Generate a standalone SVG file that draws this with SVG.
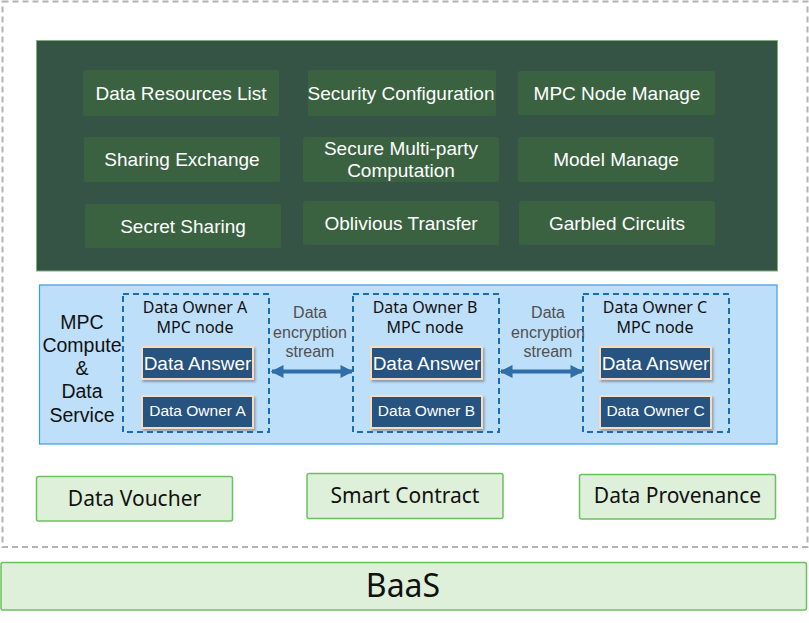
<svg xmlns="http://www.w3.org/2000/svg" width="809" height="623" viewBox="0 0 809 623">
<style>
.mod{fill:#3a6240;}
.mt{fill:#ffffff;font-family:"Liberation Sans",Arial,sans-serif;font-size:19px;text-anchor:middle;}
.dash{fill:none;stroke:#1b6cb6;stroke-width:2;stroke-dasharray:6 4;}
.btn{fill:#27537f;stroke:#f9dcc0;stroke-width:2;}
.bt1{fill:#ffffff;font-family:"Liberation Sans",Arial,sans-serif;font-size:19px;text-anchor:middle;}
.bt2{fill:#ffffff;font-family:"Liberation Sans",Arial,sans-serif;font-size:15.5px;text-anchor:middle;}
.ttl{fill:#111111;font-family:"Noto Sans",sans-serif;font-size:16px;text-anchor:middle;}
.side{fill:#111111;font-family:"Liberation Sans",Arial,sans-serif;font-size:19.5px;text-anchor:middle;}
.enc{fill:#505050;font-family:"Liberation Sans",Arial,sans-serif;font-size:16px;text-anchor:middle;}
.gbox{fill:#dff0da;stroke:#6cc060;stroke-width:1.5;}
.gt{fill:#111111;font-family:"Noto Sans",sans-serif;font-size:21px;text-anchor:middle;}
.baas{fill:#111111;font-family:"Noto Sans",sans-serif;font-size:32px;text-anchor:middle;}
.arr{stroke:#2f6ea8;stroke-width:4;fill:none;}
</style>
<defs>
<filter id="sh" x="-10%" y="-20%" width="130%" height="160%">
<feDropShadow dx="1.5" dy="2" stdDeviation="1" flood-color="#555" flood-opacity="0.5"/>
</filter>
<marker id="ah" viewBox="0 0 10 10" refX="9" refY="5" markerWidth="4.4" markerHeight="3.2" orient="auto-start-reverse" markerUnits="strokeWidth">
<path d="M0,0 L10,5 L0,10 z" fill="#2f6ea8"/>
</marker>
</defs>
<rect width="809" height="623" fill="#ffffff"/>
<rect id="outer" x="2.5" y="1.5" width="805" height="545.5" fill="none" stroke="#b3b3b3" stroke-width="2" stroke-dasharray="6 4"/>

<g id="mgmt-panel">
<rect x="36.5" y="40.5" width="741" height="230.5" fill="#365446" stroke="#7fb07a" stroke-width="1"/>
</g>
<g id="n-drl"><rect class="mod" x="83" y="70" width="196" height="46" rx="2"/><text class="mt" x="181" y="100">Data Resources List</text></g>
<g id="n-sc"><rect class="mod" x="308" y="70" width="188" height="46" rx="2"/><text class="mt" x="401" y="100">Security Configuration</text></g>
<g id="n-mnm"><rect class="mod" x="518" y="71" width="197" height="44" rx="2"/><text class="mt" x="617" y="100">MPC Node Manage</text></g>
<g id="n-se"><rect class="mod" x="84" y="137" width="196" height="45" rx="2"/><text class="mt" x="182" y="166">Sharing Exchange</text></g>
<g id="n-smc"><rect class="mod" x="303" y="137" width="196" height="45" rx="2"/><text class="mt" x="401" y="155">Secure Multi-party</text><text class="mt" x="401" y="177">Computation</text></g>
<g id="n-mm"><rect class="mod" x="518" y="137" width="196" height="45" rx="2"/><text class="mt" x="616" y="166">Model Manage</text></g>
<g id="n-ss"><rect class="mod" x="85" y="204" width="196" height="44" rx="2"/><text class="mt" x="183" y="233">Secret Sharing</text></g>
<g id="n-ot"><rect class="mod" x="303" y="201" width="196" height="44" rx="2"/><text class="mt" x="401" y="230">Oblivious Transfer</text></g>
<g id="n-gc"><rect class="mod" x="519" y="201" width="196" height="44" rx="2"/><text class="mt" x="617" y="230">Garbled Circuits</text></g>

<g id="compute-panel">
<rect x="39.5" y="285" width="737.5" height="159" fill="#bedff9" stroke="#3c9be8" stroke-width="1.2"/>
<text class="side" x="82" y="329">MPC</text>
<text class="side" x="82" y="352">Compute</text>
<text class="side" x="82" y="375">&amp;</text>
<text class="side" x="82" y="398">Data</text>
<text class="side" x="82" y="422">Service</text>
</g>

<g id="node-a">
<rect class="dash" x="123" y="294" width="146" height="138"/>
<text class="ttl" x="195" y="313">Data Owner A</text>
<text class="ttl" x="195" y="333">MPC node</text>
<rect class="btn" x="142" y="347" width="111" height="32" filter="url(#sh)"/>
<text class="bt1" x="197.5" y="369.5">Data Answer</text>
<rect class="btn" x="142" y="396" width="111" height="32" filter="url(#sh)"/>
<text class="bt2" x="197.5" y="416">Data Owner A</text>
</g>
<g id="node-b">
<rect class="dash" x="353" y="294" width="146" height="138"/>
<text class="ttl" x="425" y="313">Data Owner B</text>
<text class="ttl" x="425" y="333">MPC node</text>
<rect class="btn" x="371" y="347" width="111" height="32" filter="url(#sh)"/>
<text class="bt1" x="426.5" y="369.5">Data Answer</text>
<rect class="btn" x="371" y="396" width="111" height="32" filter="url(#sh)"/>
<text class="bt2" x="426.5" y="416">Data Owner B</text>
</g>
<g id="node-c">
<rect class="dash" x="583" y="294" width="146" height="138"/>
<text class="ttl" x="655" y="313">Data Owner C</text>
<text class="ttl" x="655" y="333">MPC node</text>
<rect class="btn" x="600" y="347" width="111" height="32" filter="url(#sh)"/>
<text class="bt1" x="655.5" y="369.5">Data Answer</text>
<rect class="btn" x="600" y="396" width="111" height="32" filter="url(#sh)"/>
<text class="bt2" x="655.5" y="416">Data Owner C</text>
</g>

<g id="connectors">
<line class="arr" x1="272" y1="371.5" x2="352" y2="371.5" marker-start="url(#ah)" marker-end="url(#ah)"/>
<line class="arr" x1="501" y1="371.5" x2="582" y2="371.5" marker-start="url(#ah)" marker-end="url(#ah)"/>
<text class="enc" x="310" y="318">Data</text>
<text class="enc" x="310" y="338">encryption</text>
<text class="enc" x="310" y="357">stream</text>
<text class="enc" x="548" y="318">Data</text>
<text class="enc" x="548" y="338">encryption</text>
<text class="enc" x="548" y="357">stream</text>
</g>

<g id="n-dv"><rect class="gbox" x="36.5" y="476.5" width="196" height="44.5" rx="2"/><text class="gt" x="134.5" y="505.5">Data Voucher</text></g>
<g id="n-smartc"><rect class="gbox" x="307" y="473.5" width="196" height="45" rx="2"/><text class="gt" x="405" y="503">Smart Contract</text></g>
<g id="n-dp"><rect class="gbox" x="579.5" y="474.5" width="196" height="44.5" rx="2"/><text class="gt" x="677.5" y="503">Data Provenance</text></g>
<g id="n-baas"><rect class="gbox" x="1" y="562.5" width="805.5" height="47.5" rx="2"/><text class="baas" x="403" y="597">BaaS</text></g>
</svg>
